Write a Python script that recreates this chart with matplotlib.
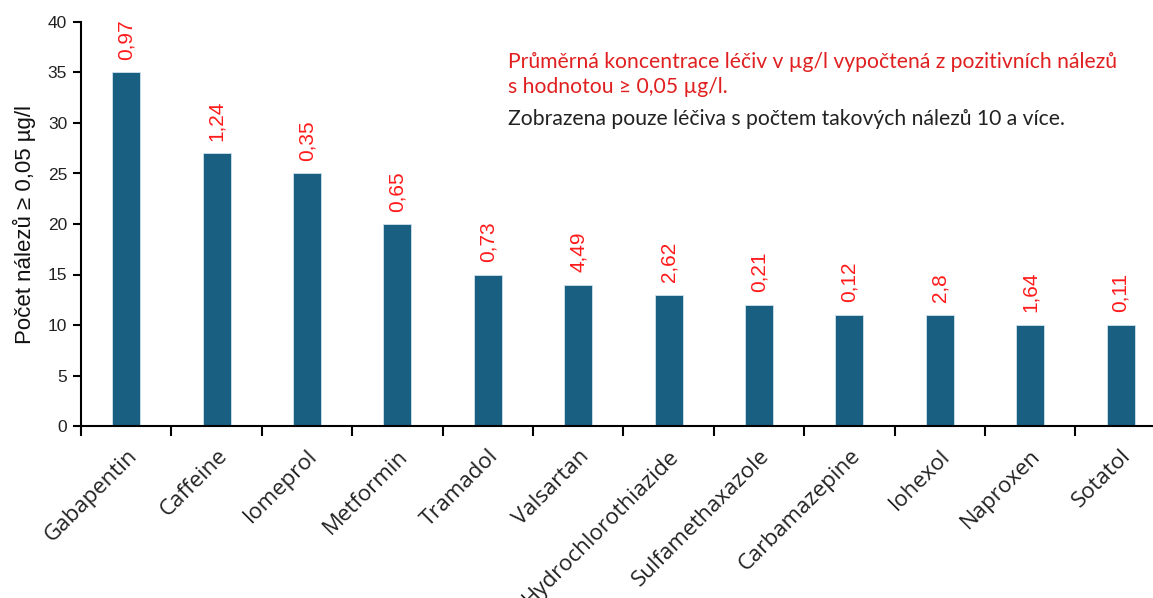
import matplotlib
matplotlib.use("Agg")
import matplotlib.pyplot as plt
import numpy as np

categories = ["Gabapentin", "Caffeine", "Iomeprol", "Metformin", "Tramadol", "Valsartan",
              "Hydrochlorothiazide", "Sulfamethaxazole", "Carbamazepine", "Iohexol",
              "Naproxen", "Sotatol"]
counts = [35, 27, 25, 20, 15, 14, 13, 12, 11, 11, 10, 10]
concentrations = ["0,97", "1,24", "0,35", "0,65", "0,73", "4,49", "2,62", "0,21",
                  "0,12", "2,8", "1,64", "0,11"]

bar_color = "#195f82"
red = "#ff1a1a"

fig = plt.figure(figsize=(11.53, 5.98), dpi=100)
ax = fig.add_axes([81/1153, (598-426)/598, 12*90.4/1153, 404/598])

x = np.arange(len(categories))
ax.bar(x, counts, width=0.31, color=bar_color, edgecolor="#cfe3ee", linewidth=0.6, zorder=2)

for xi, c, lab in zip(x, counts, concentrations):
    ax.annotate(lab, (xi, c), xytext=(0, 9), textcoords="offset points",
                rotation=90, ha="center", va="bottom", color=red,
                fontsize=15, family="Liberation Sans")

ax.set_xlim(-0.5, len(categories) - 0.5)
ax.set_ylim(0, 40)
ax.set_yticks(range(0, 41, 5))
ax.set_yticklabels([str(v) for v in range(0, 41, 5)], family="Liberation Sans", fontsize=12.5, color="#222222")

ax.set_xticks(x)
ax.set_xticklabels(categories, rotation=45, ha="right", rotation_mode="anchor",
                   family="Open Sans", fontsize=16, color="#222222")
ax.set_xticks(np.arange(-0.5, len(categories), 1), minor=True)
ax.tick_params(axis="x", which="major", length=0, pad=14)
ax.tick_params(axis="x", which="minor", length=7, width=1.5, direction="out")
ax.tick_params(axis="y", length=6, width=1.5, direction="out", pad=4)

for s in ["top", "right"]:
    ax.spines[s].set_visible(False)
ax.spines["left"].set_linewidth(1.5)
ax.spines["bottom"].set_linewidth(1.5)

ax.set_ylabel("Počet nálezů ≥ 0,05 µg/l", family="Liberation Sans", fontsize=16, color="#111111", labelpad=8)

fig.text(508/1153, 1 - 62/598, "Průměrná koncentrace léčiv v µg/l vypočtená z pozitivních nálezů",
         color="#e02020", fontsize=15.2, family="Lato", va="center", ha="left")
fig.text(508/1153, 1 - 87/598, "s hodnotou ≥ 0,05 µg/l.",
         color="#e02020", fontsize=15.2, family="Lato", va="center", ha="left")
fig.text(508/1153, 1 - 119/598, "Zobrazena pouze léčiva s počtem takových nálezů 10 a více.",
         color="#222222", fontsize=15.2, family="Lato", va="center", ha="left")

fig.savefig("out.png", dpi=100)
